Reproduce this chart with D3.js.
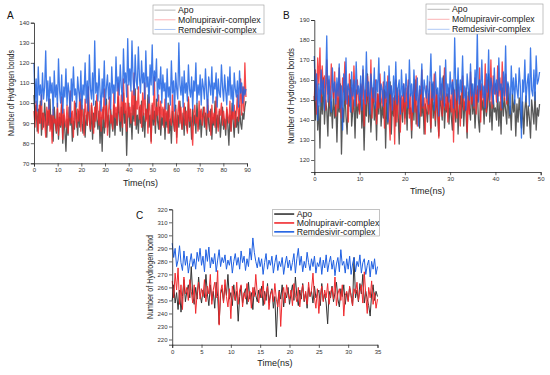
<!DOCTYPE html>
<html>
<head>
<meta charset="utf-8">
<script src="https://cdn.jsdelivr.net/npm/d3@7"></script>
<style>
  body { margin: 0; background: #fff; }
  svg { display: block; font-family: "Liberation Sans", Arial, sans-serif; }
</style>
</head>
<body>
<div id="chart"></div>
<script>
// Series names, in drawing order.
var seriesNames = ['Apo', 'Molnupiravir-complex', 'Remdesivir-complex'];

// Panel A: 0-90 ns, one value every 0.45 ns.
var stepA = 0.45;
var apoA = [104,92,99,86,97,90,101,84,95,88,100,91,83,96,89,102,87,94,81,98,
  90,85,97,82,93,88,99,80,94,86,76,92,84,98,89,95,81,91,87,100,
  93,84,96,88,102,90,85,97,83,94,89,104,91,86,99,82,95,88,101,92,
  87,96,80,93,76,98,85,91,102,88,94,83,97,90,86,99,84,95,89,103,
  92,86,98,84,105,90,96,74,93,100,88,95,82,99,91,107,87,94,85,98,
  90,101,86,95,83,97,92,104,88,94,81,99,89,96,85,102,91,87,98,84,
  93,89,97,82,95,88,100,85,92,80,96,90,86,99,83,94,88,101,91,87,
  95,84,98,90,86,102,88,93,82,97,89,94,85,100,91,87,96,83,92,98,
  88,95,84,99,90,86,97,82,93,89,101,85,94,88,96,83,91,98,87,92,
  84,97,89,79,94,86,100,91,83,96,88,93,85,99,90,87,95,92,98,101];
var molA = [96,88,101,92,85,99,90,104,87,95,91,83,98,89,102,86,94,80,97,90,
  92,86,100,84,95,89,103,82,97,91,88,99,85,94,106,90,96,83,101,93,
  88,97,91,105,86,99,93,84,102,95,89,108,92,87,100,94,85,98,91,104,
  95,89,101,86,97,92,107,88,99,84,96,103,90,94,87,105,93,98,89,110,
  96,91,104,88,112,95,100,86,109,93,98,90,106,94,115,89,101,97,108,92,
  99,88,105,94,110,91,97,85,103,96,80,100,92,113,89,98,94,104,87,101,
  93,98,88,102,91,96,85,99,92,89,104,94,86,97,80,95,101,90,98,87,
  94,100,89,96,85,103,91,97,88,79,95,99,90,93,86,101,92,97,89,94,
  98,91,87,102,93,96,84,99,90,95,88,103,92,86,97,94,100,89,96,91,
  87,98,93,90,101,86,96,92,99,88,95,104,91,97,112,94,108,96,120,103];
var remA = [120,100,112,96,118,104,109,99,115,102,108,126,101,111,97,113,105,110,94,116,
  103,109,98,122,106,100,114,95,108,103,117,99,110,105,93,112,101,118,104,107,
  98,113,106,101,116,97,109,104,120,100,111,96,124,107,102,115,99,131,105,110,
  101,117,106,96,112,103,121,99,108,114,102,110,97,118,105,109,100,123,106,113,
  104,119,108,101,127,110,115,103,132,109,117,106,131,112,104,124,111,107,128,113,
  105,121,110,115,102,126,108,113,100,119,109,129,104,116,111,122,101,112,107,118,
  100,114,106,110,97,117,103,108,99,121,105,111,96,115,107,102,130,109,104,113,
  98,116,105,110,101,119,107,103,113,97,111,106,120,100,109,104,114,99,112,108,
  102,117,106,95,113,109,104,118,100,110,107,115,98,112,105,103,119,108,101,114,
  106,99,113,104,118,102,109,96,115,107,103,111,98,116,105,110,100,108,104,107];

// Panel B: 0-50 ns, one value every 0.25 ns (Molnupiravir run stops near 43 ns).
var stepB = 0.25;
var apoB = [152,140,158,135,147,126,155,143,161,138,150,145,132,157,142,149,136,154,141,148,
  129,151,144,158,123,146,139,156,142,133,152,147,160,137,145,150,131,155,141,148,
  144,157,136,150,125,148,142,163,139,151,134,146,156,140,149,130,153,143,158,137,
  147,141,155,126,150,138,145,159,133,148,142,152,137,156,144,128,151,146,139,154,
  141,149,135,157,143,146,131,152,140,160,138,147,144,136,155,142,150,133,148,145,
  139,153,146,134,158,141,149,137,155,143,132,151,147,140,162,136,148,144,153,138,
  150,142,135,156,145,139,160,133,147,152,141,157,137,149,144,131,154,146,140,158,
  143,151,136,148,155,140,134,157,145,150,138,153,142,147,163,139,149,135,152,144,
  146,140,154,137,149,133,156,142,151,145,138,158,141,147,135,153,144,150,132,148,
  139,151,143,136,149,133,145,152,137,147,141,131,150,144,138,154,135,146,142,148];
var molB = [150,165,143,171,158,176,149,167,155,162,145,170,153,160,147,168,156,151,164,142,
  158,146,166,152,141,161,154,169,148,157,139,163,150,156,144,167,153,147,160,151,
  143,158,150,165,137,155,148,162,152,145,170,141,156,149,160,138,153,146,163,151,
  147,159,136,154,149,162,142,130,157,145,151,128,160,139,148,155,134,152,144,158,
  138,156,147,160,141,153,135,150,158,144,162,137,149,155,142,165,146,151,133,157,
  148,143,159,136,154,150,163,140,155,146,131,152,158,142,149,166,145,153,139,156,
  151,144,160,129,155,147,141,158,150,137,153,162,145,149,156,134,152,143,164,148,
  154,146,161,143,157,150,166,139,158,152,147,168,144,160,155,149,170,146,162,153,
  158,149,167,152,161,145,169,155,150,163,148,157];
var remB = [172,150,163,140,158,147,165,153,160,145,156,182,149,162,151,144,166,154,159,148,
  161,152,168,146,157,135,163,150,171,148,158,155,144,164,152,160,147,169,153,157,
  150,162,145,167,155,148,174,152,159,143,163,156,151,166,146,160,154,171,149,158,
  155,147,164,151,159,139,167,153,157,145,162,150,169,148,156,160,143,165,152,158,
  149,163,155,146,170,152,158,144,165,154,150,161,137,157,153,168,147,160,155,151,
  162,148,157,173,151,159,145,164,153,156,142,167,150,161,155,147,170,152,158,149,
  164,153,159,146,181,155,150,166,148,160,154,172,151,157,145,163,156,150,168,152,
  158,147,165,153,184,149,160,155,170,151,157,146,163,154,175,150,161,156,148,166,
  153,160,149,171,155,158,146,164,152,177,150,159,156,143,167,153,161,148,163,155,
  151,166,157,131,160,154,170,149,158,163,147,176,155,152,165,150,172,158,160,164];

// Panel C: 0-35 ns, one value every 0.25 ns.
var stepC = 0.25;
var apoC = [250,262,248,256,243,258,241,253,266,249,257,262,252,276,254,247,260,251,268,255,
  248,258,252,270,255,246,262,250,257,244,264,253,232,255,259,249,262,254,270,251,
  256,246,262,250,257,234,253,261,248,255,259,247,264,251,256,243,260,254,249,258,
  252,261,246,257,250,263,248,255,259,244,253,222,249,258,251,262,245,256,252,260,
  247,255,262,250,268,253,246,258,251,263,249,256,244,260,253,257,248,261,252,255,
  258,246,263,250,255,248,232,257,252,261,249,256,264,251,245,259,253,262,247,256,
  250,260,254,246,283,252,258,249,263,255,270,248,257,251,246,238,255,262,250,257,253];
var molC = [265,252,271,258,275,247,262,243,268,255,260,250,266,257,248,262,240,256,264,251,
  259,253,266,249,261,255,270,247,258,264,252,273,231,257,262,248,266,253,245,259,
  236,261,254,250,264,247,258,262,245,256,251,263,249,257,244,260,253,270,255,248,
  259,252,265,247,256,261,243,254,258,249,263,251,245,257,230,253,260,248,262,255,
  251,258,246,263,254,249,260,245,256,262,250,257,247,264,253,258,271,252,244,259,
  240,254,261,249,258,252,263,247,256,260,251,268,246,255,259,250,262,238,254,257,
  249,261,253,246,259,255,264,250,257,262,248,272,254,240,260,252,265,247,256,244,251];
var remC = [294,283,290,276,281,292,279,273,288,277,284,271,279,286,276,282,274,287,280,290,
  277,284,272,289,280,291,275,283,278,286,272,281,289,276,283,279,285,274,281,277,
  284,271,280,286,277,283,274,288,279,284,273,282,276,290,281,298,287,280,275,283,
  276,282,270,279,286,274,281,277,284,271,279,285,273,280,276,283,270,278,284,275,
  281,273,279,286,271,282,290,277,284,272,280,275,287,279,273,282,276,284,271,279,
  276,283,270,281,275,285,272,279,284,274,281,269,278,283,272,289,277,280,271,282,
  274,284,270,278,283,272,280,276,285,271,279,282,270,277,281,268,280,274,282,270,276];

// Tick values.
var ticksAx = [0, 10, 20, 30, 40, 50, 60, 70, 80, 90];
var ticksAy = [70, 80, 90, 100, 110, 120, 130, 140];
var ticksBx = [0, 10, 20, 30, 40, 50];
var ticksBy = [120, 130, 140, 150, 160, 170, 180, 190];
var ticksCx = [0, 5, 10, 15, 20, 25, 30, 35];
var ticksCy = [220, 230, 240, 250, 260, 270, 280, 290, 300, 310, 320];

var W = 550, H = 375;
var svg = d3.select('#chart').append('svg').attr('width', W).attr('height', H);

drawPanel({
  letter: 'A', lx: 7, ly: 19,
  x0: 34, x1: 247, y0: 163.3, y1: 22.7,
  xDomain: [0, 90], yDomain: [70, 140],
  xTicks: ticksAx, yTicks: ticksAy, xMinor: 5, yMinor: 5,
  step: stepA, series: [apoA, molA, remA],
  colors: ['#3b3b3b', '#f4282c', '#1d63e4'], width: 1.3, opacity: 0.85,
  yTitle: 'Number of Hydrogen bonds', yTitleX: 11, yTitleLen: 86,
  xTitleY: 186,
  legend: { x: 153, y: 5, w: 111, h: 29, lineW: 21, bold: false }
});

drawPanel({
  letter: 'B', lx: 283, ly: 19,
  x0: 314.3, x1: 540.7, y0: 172, y1: 20,
  xDomain: [0, 50], yDomain: [114, 190],
  xTicks: ticksBx, yTicks: ticksBy, xMinor: 5, yMinor: 5,
  step: stepB, series: [apoB, molB, remB],
  colors: ['#3b3b3b', '#f4282c', '#1d63e4'], width: 1.3, opacity: 0.85,
  yTitle: 'Number of Hydrogen bonds', yTitleX: 291, yTitleLen: 96,
  xTitleY: 194,
  legend: { x: 426, y: 4, w: 117, h: 30, lineW: 22, bold: false }
});

drawPanel({
  letter: 'C', lx: 136, ly: 219,
  x0: 172.2, x1: 377.5, y0: 344.7, y1: 209.3,
  xDomain: [0, 35], yDomain: [216, 320],
  xTicks: ticksCx, yTicks: ticksCy, xMinor: 2.5, yMinor: 5,
  step: stepC, series: [apoC, molC, remC],
  colors: ['#333333', '#f02a2e', '#1f60e2'], width: 1, opacity: 1,
  yTitle: 'Number of Hydrogen bond', yTitleX: 150, yTitleLen: 84,
  xTitleY: 366,
  legend: { x: 272.7, y: 209.3, w: 106.6, h: 26.7, lineW: 20, bold: true }
});

function drawPanel(p) {
  var x = d3.scaleLinear().domain(p.xDomain).range([p.x0, p.x1]);
  var y = d3.scaleLinear().domain(p.yDomain).range([p.y0, p.y1]);
  var g = svg.append('g');

  // Traces.
  p.series.forEach(function (vals, k) {
    var line = d3.line()
      .x(function (d, i) { return x(i * p.step); })
      .y(function (d) { return y(d); });
    g.append('path')
      .datum(vals)
      .attr('d', line)
      .style('fill', 'none')
      .style('stroke', p.colors[k])
      .style('stroke-width', p.width)
      .style('stroke-opacity', p.opacity)
      .style('stroke-linejoin', 'round');
  });

  // Axes.
  var minorX = d3.range(p.xDomain[0], p.xDomain[1] + 0.001, p.xMinor);
  var minorY = d3.range(Math.ceil(p.yDomain[0] / p.yMinor) * p.yMinor, p.yDomain[1] + 0.001, p.yMinor);

  var xAxis = g.append('g').attr('transform', 'translate(0,' + p.y0 + ')');
  xAxis.call(d3.axisBottom(x).tickValues(minorX).tickSize(1.8).tickFormat(''));
  xAxis.call(d3.axisBottom(x).tickValues(p.xTicks).tickSize(3.2).tickPadding(1.5));
  var yAxis = g.append('g').attr('transform', 'translate(' + p.x0 + ',0)');
  yAxis.call(d3.axisLeft(y).tickValues(minorY).tickSize(1.8).tickFormat(''));
  yAxis.call(d3.axisLeft(y).tickValues(p.yTicks).tickSize(3.2).tickPadding(1.5));
  g.selectAll('.domain').attr('stroke', '#222').attr('stroke-width', 0.8);
  g.selectAll('.tick line').attr('stroke', '#222').attr('stroke-width', 0.7);
  g.selectAll('.tick text')
    .attr('fill', '#333')
    .style('font-size', '6px')
    .style('font-family', '"Liberation Sans", Arial, sans-serif');

  // Titles.
  g.append('text')
    .attr('x', (p.x0 + p.x1) / 2)
    .attr('y', p.xTitleY)
    .attr('text-anchor', 'middle')
    .style('font-size', '9px')
    .attr('fill', '#222')
    .text('Time(ns)');
  g.append('text')
    .attr('transform', 'translate(' + p.yTitleX + ',' + ((p.y0 + p.y1) / 2) + ') rotate(-90)')
    .attr('text-anchor', 'middle')
    .attr('dy', '0.35em')
    .attr('textLength', p.yTitleLen)
    .attr('lengthAdjust', 'spacingAndGlyphs')
    .style('font-size', '8.5px')
    .attr('fill', '#222')
    .text(p.yTitle);
  g.append('text')
    .attr('x', p.lx)
    .attr('y', p.ly)
    .style('font-size', '10px')
    .attr('fill', '#111')
    .text(p.letter);

  // Legend.
  var L = p.legend;
  var lg = g.append('g').attr('transform', 'translate(' + L.x + ',' + L.y + ')');
  lg.append('rect')
    .attr('width', L.w).attr('height', L.h)
    .style('fill', '#fff')
    .style('stroke', '#9a9a9a')
    .style('stroke-width', 0.6);
  var rowH = L.h / 3;
  seriesNames.forEach(function (name, k) {
    var cy = rowH * (k + 0.5) + 0.3;
    lg.append('line')
      .attr('x1', 1.5).attr('x2', 1.5 + L.lineW)
      .attr('y1', cy).attr('y2', cy)
      .style('stroke', p.colors[k])
      .style('stroke-width', L.bold ? 1.6 : 0.8)
      .style('stroke-opacity', L.bold ? 1 : 0.45);
    lg.append('text')
      .attr('x', L.lineW + 4)
      .attr('y', cy)
      .attr('dy', '0.35em')
      .style('font-size', '8.7px')
      .attr('fill', '#222')
      .text(name);
  });
}
</script>
</body>
</html>
